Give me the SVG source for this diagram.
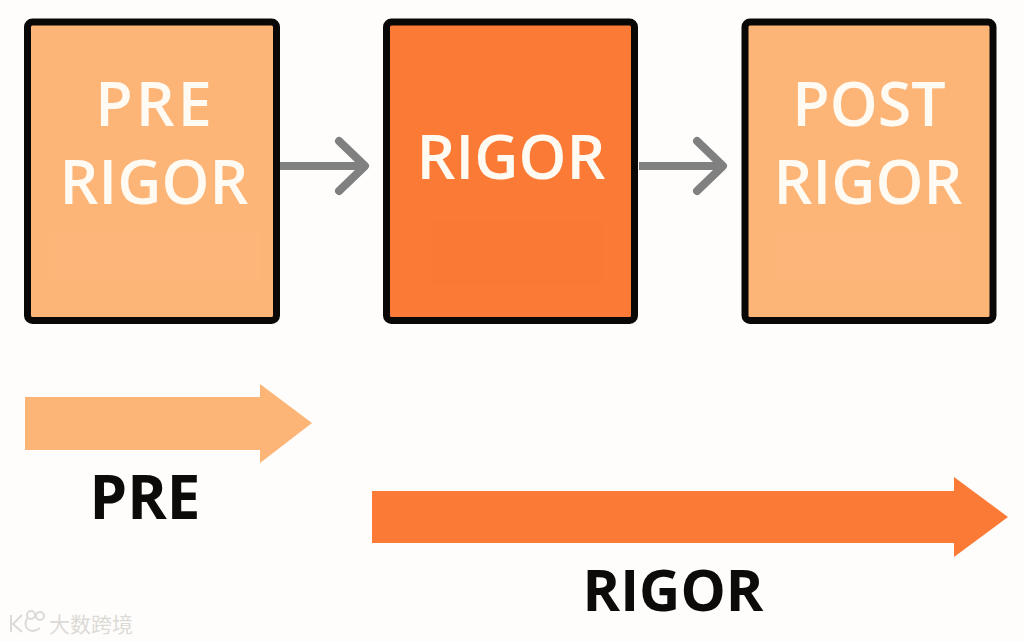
<svg xmlns="http://www.w3.org/2000/svg" width="1024" height="642" viewBox="0 0 1024 642">
<style>
.box{stroke:#0a0807;stroke-width:7}
.light{fill:#fdb577}
.dark{fill:#fb7b36}
.w{font-family:"Open Sans","Liberation Sans",sans-serif;font-size:61px;font-weight:600;fill:#fffaf2;text-anchor:middle}
.k{font-family:"Open Sans","Liberation Sans",sans-serif;font-size:60px;font-weight:700;fill:#0c0b0a;text-anchor:middle}
.conn{fill:none;stroke:#808080;stroke-width:8;stroke-linejoin:round}
.head{stroke-linecap:round}
.wm{fill:none;stroke:#dcdad6;stroke-width:2}
</style>
<rect width="1024" height="642" fill="#fefdfb"/>
<g id="node-pre"><rect class="box light" x="27.500" y="22" width="249" height="298.500" rx="5"/><rect x="50" y="230" width="210" height="52" fill="#fdb679"/><text class="w" x="155" y="126" letter-spacing="3">PRE</text><text class="w" x="154" y="204">RIGOR</text></g>
<g id="node-rigor"><rect class="box dark" x="386.500" y="22" width="248" height="298.500" rx="5"/><rect x="430" y="220" width="173" height="65" fill="#fa7a35"/><text class="w" x="511" y="179">RIGOR</text></g>
<g id="node-post"><rect class="box light" x="745" y="22" width="248" height="298.500" rx="5"/><rect x="775" y="230" width="185" height="50" fill="#fdb679"/><text class="w" x="869" y="126">POST</text><text class="w" x="868" y="204">RIGOR</text></g>
<g id="connectors">
<path class="conn" d="M280 166H363"/><path class="conn head" d="M339 141L365 166L339 191"/>
<path class="conn" d="M639 166H721"/><path class="conn head" d="M697 141L723 166L697 191"/>
</g>
<g id="arrow-pre"><polygon class="light" points="25,397 260,397 260,384 312,423 260,463 260,450 25,450"/><text class="k" x="145" y="519">PRE</text></g>
<g id="arrow-rigor"><polygon class="dark" points="372,491 954,491 954,477 1008,517 954,557 954,543 372,543"/><text class="k" x="673" y="611" font-size="57" style="font-size:57px">RIGOR</text></g>
<g id="watermark"><path class="wm" d="M11 615V632M22 615L13 624L22 632M27 618C22 630 32 634 40 628"/><circle class="wm" cx="31" cy="615" r="4"/><circle class="wm" cx="40" cy="616" r="4"/><text x="49" y="632" font-family="'Noto Sans CJK SC',sans-serif" font-size="21" fill="#dcdad6">大数跨境</text></g>
</svg>
